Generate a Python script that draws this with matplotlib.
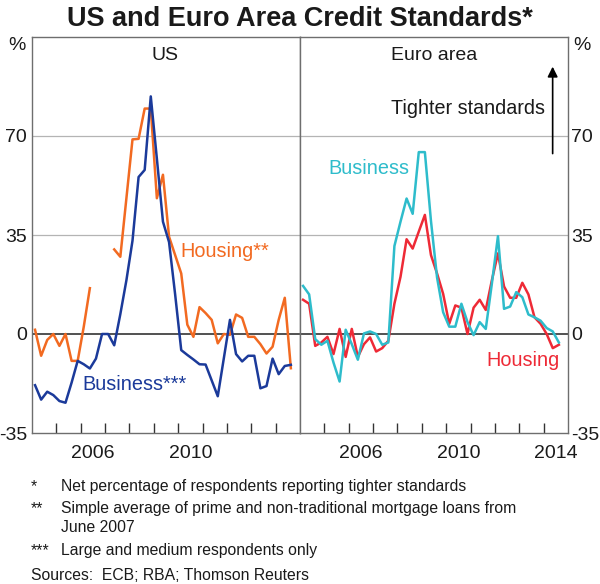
import numpy as np
import pandas as pd
import matplotlib
matplotlib.use("Agg")
import matplotlib.pyplot as plt

plt.rcParams['font.family'] = ['Liberation Sans', 'DejaVu Sans']

# Quarterly data, 2004 Q1 to 2014 Q3
quarters = pd.period_range('2004Q1', '2014Q3', freq='Q')
nan = np.nan

us_business = [-18.1, -23.2, -20.4, -21.6, -23.7, -24.3, -17.2, -9.5, -10.7, -12.2,
               -8.7, 0, 0, -4.0, 7, 19, 33, 55.5, 58, 84,
               62, 39.7, 32.5, 14, -5.7, -7.4, -9.0, -10.7, -10.8, -16.4,
               -22, -8.5, 5, -7.1, -9.7, -7.7, -7.7, -19.2, -18.4, -8.7,
               -14.2, -11.3, -10.9]
us_housing = [1.5, -7.7, -2.1, 0, -4.2, 0, -9.5, -9.5, 2.6, 16.2,
              nan, nan, nan, 29.9, 27.3, 48, 68.8, 69, 79.7, 79.7,
              48, 56.3, 34.4, 27.9, 21.4, 3.3, -1, 9.5, 7.4, 5,
              -3.3, 0, -0.3, 6.9, 5.7, -1, -1, -3.6, -6.9, -4.5,
              5, 12.8, -12.1]
euro_business = [17.0, 14.0, -1.8, -3.8, -2.4, -10.1, -16.8, 1.5, -3.6, -9.1,
                 0.2, 0.9, 0, -3.8, -3.0, 31.1, 39.7, 47.9, 42.5, 64.3,
                 64.3, 40, 20, 7.7, 2.6, 2.6, 10.7, 4.2, -0.4, 4.2,
                 1.8, 17.8, 34.6, 8.9, 9.7, 14.8, 13, 6.9, 5.9, 4.7,
                 2.1, 0.9, -3.0]
euro_housing = [12.1, 10.7, -4.2, -3.0, -1.0, -7.1, 1.8, -8.1, 1.8, -8.1,
                -3.6, -1.2, -6.2, -5.0, -2.4, 10.7, 20.2, 33.5, 30.2, 36.2,
                42.1, 27.9, 21.4, 14.2, 3.6, 10.1, 9.3, 0, 9.3, 12.1,
                8.5, 19, 28.5, 16.8, 12.8, 12.8, 18.1, 14, 5.9, 3.6,
                0, -5, -3.8]

y_ticks = [-35, 0, 35, 70]
year_labels_us = [2006, 2010]
year_labels_euro = [2006, 2010, 2014]

x = np.array([q.year + (q.quarter - 1) / 4 + 0.125 for q in quarters])

C_BLUE = '#1b3a9a'
C_ORANGE = '#f26a21'
C_CYAN = '#2ebccb'
C_RED = '#ee2a36'
GRID = '#b4b4b4'
FRAME = '#6e6e6e'
TXT = '#1a1a1a'

FS = 14

W, H = 600, 584
fig = plt.figure(figsize=(W / 100, H / 100), dpi=100)

def fx(px):
    return px / W

def fy(py):
    return 1 - py / H

ax_l = fig.add_axes([fx(32), fy(433), (300 - 32) / W, (433 - 37) / H])
ax_r = fig.add_axes([fx(300), fy(433), (568 - 300) / W, (433 - 37) / H])

for ax, labels in ((ax_l, year_labels_us), (ax_r, year_labels_euro)):
    ax.set_xlim(2004, 2015)
    ax.set_ylim(-35, 105)
    for yv in (35, 70):
        ax.axhline(yv, color=GRID, lw=0.9, zorder=0)
    ax.axhline(0, color='#222222', lw=1.1, zorder=1)
    for sp in ax.spines.values():
        sp.set_color(FRAME)
        sp.set_linewidth(1.0)
    ax.set_xticks(np.arange(2005, 2015))
    ax.set_xticklabels([])
    ax.tick_params(axis='x', which='major', direction='in', length=7,
                   width=1.0, color='#333333')
    ax.set_xticks([yr + 0.5 for yr in labels], minor=True)
    ax.set_xticklabels([str(yr) for yr in labels], minor=True)
    ax.tick_params(axis='x', which='minor', length=0, pad=8.5, labelsize=FS,
                   labelcolor=TXT)
    ax.set_yticks(y_ticks)
    ax.set_yticklabels([str(v) for v in y_ticks])
    ax.tick_params(axis='y', length=0, labelsize=FS, labelcolor=TXT)

ax_l.tick_params(axis='y', pad=3.5, left=False, labelleft=True)
ax_r.tick_params(axis='y', pad=2, left=False, labelleft=False, right=False,
                 labelright=True)

# Lines
ax_l.plot(x, us_housing, color=C_ORANGE, lw=1.8, zorder=3)
ax_l.plot(x, us_business, color=C_BLUE, lw=1.8, zorder=4)
ax_r.plot(x, euro_housing, color=C_RED, lw=1.8, zorder=3)
ax_r.plot(x, euro_business, color=C_CYAN, lw=1.8, zorder=4)

# Panel titles
ax_l.text(2009.45, 98.3, 'US', ha='center', va='center', fontsize=FS, color=TXT)
ax_r.text(2009.5, 98.3, 'Euro area', ha='center', va='center', fontsize=FS, color=TXT)

# Series labels
ax_l.text(2010.07, 29.3, 'Housing**', color=C_ORANGE, ha='left', va='center', fontsize=14.3)
ax_l.text(2006.05, -17.7, 'Business***', color=C_BLUE, ha='left', va='center', fontsize=14.3)
ax_r.text(2005.15, 58.5, 'Business', color=C_CYAN, ha='left', va='center', fontsize=14.3)
ax_r.text(2014.66, -9.5, 'Housing', color=C_RED, ha='right', va='center', fontsize=14.3)

ax_r.text(2014.06, 79.7, 'Tighter standards', ha='right', va='center', fontsize=14.2,
          color=TXT)
ax_r.annotate('', xy=(2014.37, 95.5), xytext=(2014.37, 62.8),
              arrowprops=dict(arrowstyle='-|>', color='black', lw=1.2,
                              mutation_scale=15))

# Percent signs
fig.text(fx(17), fy(46), '%', ha='center', va='center', fontsize=FS, color=TXT)
fig.text(fx(582), fy(46), '%', ha='center', va='center', fontsize=FS, color=TXT)

# Title
fig.text(0.5, fy(19.5), 'US and Euro Area Credit Standards*', ha='center', va='center',
         fontsize=19.5, fontweight='bold', color=TXT)

# Footnotes
FN = 11.3
notes = [
    (487, '*', 'Net percentage of respondents reporting tighter standards'),
    (509, '**', 'Simple average of prime and non-traditional mortgage loans from'),
    (527, '', 'June 2007'),
    (551, '***', 'Large and medium respondents only'),
]
for py, mark, txt in notes:
    fig.text(fx(31), fy(py), mark, ha='left', va='center', fontsize=FN, color=TXT)
    fig.text(fx(61), fy(py), txt, ha='left', va='center', fontsize=FN, color=TXT)
fig.text(fx(31), fy(576), 'Sources:  ECB; RBA; Thomson Reuters', ha='left', va='center',
         fontsize=FN, color=TXT)

fig.savefig('out.png', dpi=100)
